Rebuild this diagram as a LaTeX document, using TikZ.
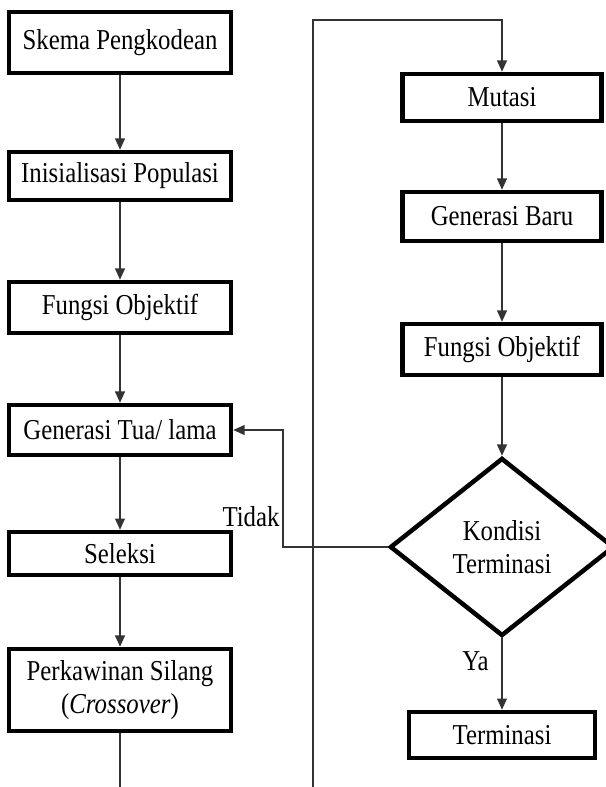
\documentclass[tikz,border=0pt]{standalone}
\usepackage{fontspec}
\setmainfont[FakeStretch=0.86]{Liberation Serif}
\usetikzlibrary{shapes.geometric,arrows.meta}

\begin{document}
\begin{tikzpicture}[x=0.025cm,y=-0.025cm,
  kotak/.style={draw,line width=3.2pt,minimum width=5.55cm,inner sep=0pt,
    align=center,font=\fontsize{20.5}{23.4}\selectfont},
  panah/.style={-{Triangle[width=7pt,length=8pt]},line width=0.9pt,draw=black!80},
  garis/.style={line width=0.9pt,draw=black!80}]
\useasboundingbox (0,0) rectangle (605,787);

% kolom kiri
\node[kotak,minimum height=1.525cm] (skema) at (120,42.5) {Skema Pengkodean};
\node[kotak,minimum height=1.2cm] (inisial) at (120,176) {Inisialisasi Populasi};
\node[kotak,minimum height=1.275cm] (fobj) at (120,307.5) {Fungsi Objektif};
\node[kotak,minimum height=1.25cm] (gentua) at (120,430) {Generasi Tua/ lama};
\node[kotak,minimum height=1.075cm] (seleksi) at (120,553.5) {Seleksi};
\node[kotak,minimum height=2.05cm] (kawin) at (120,690) {Perkawinan Silang\\(\textit{Crossover})};

% kolom kanan
\node[kotak,minimum width=4.975cm,minimum height=1.175cm] (mutasi) at (502,97.5) {Mutasi};
\node[kotak,minimum width=4.975cm,minimum height=1.225cm] (genbaru) at (502,216.5) {Generasi Baru};
\node[kotak,minimum width=4.975cm,minimum height=1.275cm] (fobjb) at (502,349.5) {Fungsi Objektif};
\node[diamond,draw,line width=3.2pt,minimum width=5.6cm,minimum height=4.45cm,inner sep=0pt,
  align=center,font=\fontsize{20.5}{23.4}\selectfont] (kondisi) at (502,547) {Kondisi\\Terminasi};
\node[kotak,minimum width=4.65cm,minimum height=1.15cm] (term) at (502,735) {Terminasi};

\node[font=\fontsize{20.5}{23.4}\selectfont,inner sep=0pt] (tidak) at (251,517) {Tidak};

\coordinate (belok) at (283,547);
\coordinate (bawahA) at (120,787);
\coordinate (bawahB) at (313,787);
\coordinate (atas) at (313,20);

\draw[panah] (skema) -- (inisial);
\draw[panah] (inisial) -- (fobj);
\draw[panah] (fobj) -- (gentua);
\draw[panah] (gentua) -- (seleksi);
\draw[panah] (seleksi) -- (kawin);
\draw[garis] (kawin) -- (bawahA);

\draw[panah] (bawahB) -- (atas) -| (mutasi);
\draw[panah] (mutasi) -- (genbaru);
\draw[panah] (genbaru) -- (fobjb);
\draw[panah] (fobjb) -- (kondisi);
\draw[panah] (kondisi) -- node[pos=0.32,left=9pt,font=\fontsize{20.5}{23.4}\selectfont,inner sep=0pt] (ya) {Ya} (term);
\draw[panah] (kondisi.west) -- (belok) |- (gentua.east);

\end{tikzpicture}
\end{document}
